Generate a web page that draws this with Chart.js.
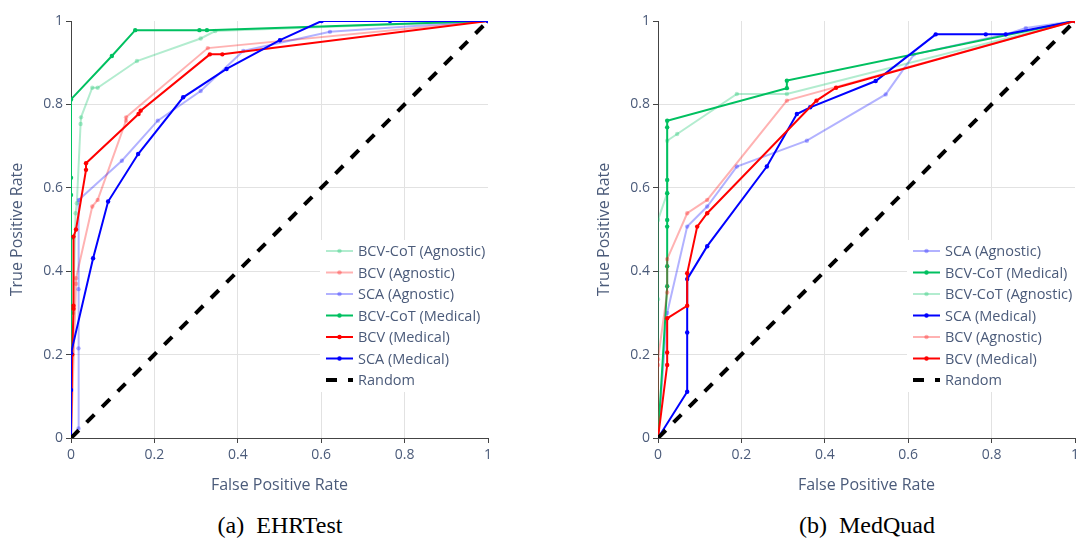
<!DOCTYPE html>
<html>
<head>
<meta charset="utf-8">
<script src="https://cdn.jsdelivr.net/npm/chart.js@4.4.1/dist/chart.umd.min.js"></script>
<style>
  body { margin: 0; background: #fff; }
  #page { position: relative; width: 1077px; height: 545px; overflow: hidden; background: #fff; }
  .box { position: absolute; top: 0; width: 540px; height: 500px; }
  .caption { position: absolute; top: 512px; font-family: "Liberation Serif", "Times New Roman", serif; font-size: 24px; color: #000; white-space: pre; transform: translateX(-50%); }
</style>
</head>
<body>
<div id="page">
  <div class="box" style="left:0"><canvas id="ehr" width="540" height="500"></canvas></div>
  <div class="box" style="left:587px"><canvas id="mq" width="540" height="500"></canvas></div>
  <div class="caption" style="left:280px">(a)  EHRTest</div>
  <div class="caption" style="left:867px">(b)  MedQuad</div>
</div>
<script>
// --- EHRTest ---
const ehrCotAgnFpr = [0, 0.005, 0.011, 0.014, 0.023, 0.024, 0.051, 0.064, 0.158, 0.311, 0.346, 1];
const ehrCotAgnTpr = [0, 0.3, 0.539, 0.563, 0.753, 0.769, 0.84, 0.84, 0.904, 0.958, 0.976, 1];
const ehrBcvAgnFpr = [0, 0.012, 0.012, 0.051, 0.064, 0.132, 0.132, 0.328, 1];
const ehrBcvAgnTpr = [0, 0.37, 0.383, 0.555, 0.571, 0.761, 0.769, 0.935, 1];
const ehrScaAgnFpr = [0, 0.018, 0.018, 0.018, 0.019, 0.122, 0.208, 0.311, 0.413, 0.621, 1];
const ehrScaAgnTpr = [0, 0.023, 0.215, 0.357, 0.571, 0.665, 0.761, 0.832, 0.928, 0.974, 1];
const ehrCotMedFpr = [0, 0, 0, 0, 0, 0, 0.098, 0.154, 0.308, 0.326, 1];
const ehrCotMedTpr = [0, 0.3, 0.48, 0.583, 0.624, 0.812, 0.916, 0.978, 0.978, 0.978, 1];
const ehrBcvMedFpr = [0, 0.003, 0.006, 0.006, 0.006, 0.012, 0.036, 0.036, 0.162, 0.167, 0.333, 0.363, 1];
const ehrBcvMedTpr = [0, 0.2, 0.31, 0.317, 0.483, 0.5, 0.643, 0.659, 0.777, 0.785, 0.92, 0.92, 1];
const ehrScaMedFpr = [0, 0, 0, 0.053, 0.089, 0.161, 0.269, 0.373, 0.501, 0.601, 0.765, 1];
const ehrScaMedTpr = [0, 0.115, 0.203, 0.431, 0.567, 0.681, 0.817, 0.885, 0.954, 1, 1, 1];

// --- MedQuad ---
const mqScaAgnFpr = [0, 0.022, 0.07, 0.118, 0.189, 0.357, 0.546, 0.614, 0.834, 0.882, 1];
const mqScaAgnTpr = [0, 0.3, 0.507, 0.555, 0.651, 0.713, 0.824, 0.92, 0.968, 0.983, 1];
const mqCotMedFpr = [0, 0.022, 0.022, 0.022, 0.022, 0.022, 0.022, 0.022, 0.022, 0.309, 0.309, 1];
const mqCotMedTpr = [0, 0.364, 0.412, 0.507, 0.523, 0.587, 0.619, 0.745, 0.761, 0.839, 0.857, 1];
const mqCotAgnFpr = [0, 0, 0, 0.022, 0.022, 0.046, 0.189, 0.309, 1];
const mqCotAgnTpr = [0, 0.333, 0.523, 0.587, 0.713, 0.729, 0.825, 0.825, 1];
const mqScaMedFpr = [0, 0.07, 0.07, 0.07, 0.118, 0.261, 0.333, 0.365, 0.522, 0.666, 0.786, 0.834, 1];
const mqScaMedTpr = [0, 0.111, 0.253, 0.381, 0.46, 0.651, 0.777, 0.793, 0.856, 0.968, 0.968, 0.968, 1];
const mqBcvAgnFpr = [0, 0, 0, 0.022, 0.022, 0.07, 0.118, 0.309, 1];
const mqBcvAgnTpr = [0, 0.175, 0.189, 0.349, 0.429, 0.539, 0.571, 0.809, 1];
const mqBcvMedFpr = [0, 0.022, 0.022, 0.022, 0.07, 0.07, 0.094, 0.118, 0.38, 0.427, 1];
const mqBcvMedTpr = [0, 0.175, 0.205, 0.287, 0.317, 0.395, 0.507, 0.539, 0.809, 0.84, 1];

const randomFpr = [0, 1];
const randomTpr = [0, 1];

const axisTicks = [0, 0.2, 0.4, 0.6, 0.8, 1];

const GREEN = '0,192,96';
const RED = '255,0,0';
const BLUE = '0,0,255';
const TEXT = '#4b5b7a';
const FONT = '"Open Sans", "Noto Sans", sans-serif';

function series(label, fpr, tpr, rgb, faded) {
  const col = `rgba(${rgb},${faded ? 0.3 : 1})`;
  return {
    label,
    data: fpr.map((x, i) => ({ x, y: tpr[i] })),
    showLine: true,
    borderColor: col,
    backgroundColor: col,
    borderWidth: 2,
    pointRadius: 2.2,
    pointBorderWidth: 0,
    pointBackgroundColor: col
  };
}

function randomLine() {
  return {
    label: 'Random',
    data: randomFpr.map((x, i) => ({ x, y: randomTpr[i] })),
    showLine: true,
    borderColor: '#000',
    borderWidth: 4,
    borderDash: [11, 11],
    pointRadius: 0,
    isRandom: true
  };
}

// legend drawn inside the plot, plotly style
const insideLegend = {
  id: 'insideLegend',
  afterDatasetsDraw(chart, args, opts) {
    const ctx = chart.ctx;
    const a = chart.chartArea;
    ctx.save();
    ctx.fillStyle = '#fff';
    ctx.fillRect(opts.left, opts.top, a.right - opts.left + 2, opts.height);
    ctx.font = '14.5px ' + FONT;
    ctx.textBaseline = 'middle';
    chart.data.datasets.forEach((ds, i) => {
      const y = opts.firstY + i * opts.step;
      ctx.beginPath();
      ctx.moveTo(opts.left + 6, y);
      ctx.lineTo(opts.left + 33, y);
      ctx.strokeStyle = ds.borderColor;
      if (ds.isRandom) {
        ctx.lineWidth = 4;
        ctx.setLineDash([11, 11]);
      } else {
        ctx.lineWidth = 2;
        ctx.setLineDash([]);
      }
      ctx.stroke();
      ctx.setLineDash([]);
      if (!ds.isRandom) {
        ctx.fillStyle = ds.borderColor;
        ctx.beginPath();
        ctx.arc(opts.left + 19.5, y, 2.2, 0, Math.PI * 2);
        ctx.fill();
      }
      ctx.fillStyle = TEXT;
      ctx.fillText(ds.label, opts.left + 38, y + 1);
    });
    ctx.restore();
  }
};

function fmt(v) {
  return String(Math.round(v * 10) / 10);
}

function axis(title, isX) {
  return {
    type: 'linear',
    min: 0,
    max: 1,
    afterBuildTicks: s => { s.ticks = axisTicks.map(v => ({ value: v })); },
    ticks: { callback: fmt, color: TEXT, font: { family: FONT, size: 14 }, padding: isX ? 4 : 3, maxRotation: 0 },
    grid: {
      color: c => (c.tick && (c.tick.value === 0 || c.tick.value === 1)) ? 'rgba(0,0,0,0)' : '#e2e2e2',
      lineWidth: 1,
      tickColor: '#444',
      tickLength: 5
    },
    border: { color: '#444', width: 1 },
    title: { display: true, text: title, color: TEXT, font: { family: FONT, size: 16 }, padding: isX ? { top: 4, bottom: 5 } : { top: 8, bottom: 2 } },
    afterFit: s => { if (isX) s.height = 62; else s.width = 71; }
  };
}

function makeChart(id, datasets) {
  datasets.forEach((d, i) => { d.order = datasets.length - i; });
  return new Chart(document.getElementById(id), {
    type: 'scatter',
    data: { datasets },
    options: {
      responsive: false,
      animation: false,
      layout: { autoPadding: false, padding: { left: 0, top: 21, right: 52, bottom: 0 } },
      plugins: {
        legend: { display: false },
        tooltip: { enabled: false },
        insideLegend: { left: 320, top: 240, height: 152, firstY: 251, step: 21.5 }
      },
      scales: {
        x: axis('False Positive Rate', true),
        y: axis('True Positive Rate', false)
      }
    },
    plugins: [insideLegend]
  });
}

makeChart('ehr', [
  series('BCV-CoT (Agnostic)', ehrCotAgnFpr, ehrCotAgnTpr, GREEN, true),
  series('BCV (Agnostic)', ehrBcvAgnFpr, ehrBcvAgnTpr, RED, true),
  series('SCA (Agnostic)', ehrScaAgnFpr, ehrScaAgnTpr, BLUE, true),
  series('BCV-CoT (Medical)', ehrCotMedFpr, ehrCotMedTpr, GREEN, false),
  series('BCV (Medical)', ehrBcvMedFpr, ehrBcvMedTpr, RED, false),
  series('SCA (Medical)', ehrScaMedFpr, ehrScaMedTpr, BLUE, false),
  randomLine()
]);

makeChart('mq', [
  series('SCA (Agnostic)', mqScaAgnFpr, mqScaAgnTpr, BLUE, true),
  series('BCV-CoT (Medical)', mqCotMedFpr, mqCotMedTpr, GREEN, false),
  series('BCV-CoT (Agnostic)', mqCotAgnFpr, mqCotAgnTpr, GREEN, true),
  series('SCA (Medical)', mqScaMedFpr, mqScaMedTpr, BLUE, false),
  series('BCV (Agnostic)', mqBcvAgnFpr, mqBcvAgnTpr, RED, true),
  series('BCV (Medical)', mqBcvMedFpr, mqBcvMedTpr, RED, false),
  randomLine()
]);
</script>
</body>
</html>
